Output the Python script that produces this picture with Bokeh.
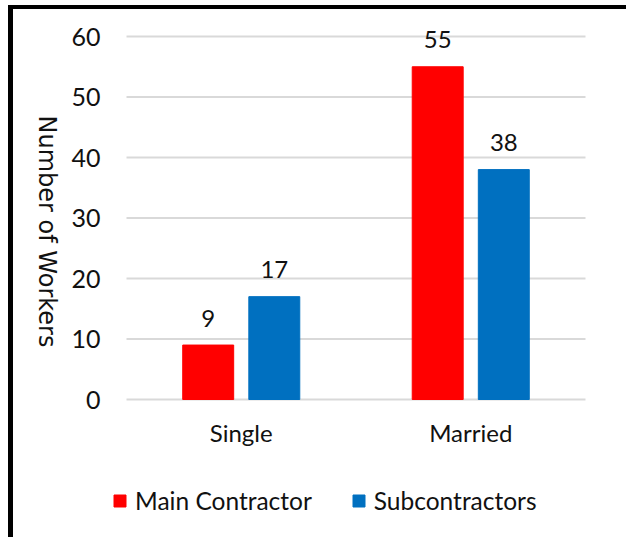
import math
from bokeh.plotting import figure
from bokeh.models import (ColumnDataSource, Range1d, Legend, LegendItem, FixedTicker, Label)
from bokeh.transform import dodge
from bokeh.core.properties import value
from bokeh.embed import file_html
from bokeh.resources import INLINE

# ---- data ----
categories = ["Single", "Married"]
series_names = ["Main Contractor", "Subcontractors"]
main_contractor = [9, 55]
subcontractors = [17, 38]
y_ticks = [0, 10, 20, 30, 40, 50, 60]
y_title = "Number of Workers"

RED = "#ff0000"
BLUE = "#0070c0"
FONT = "Lato"
TXT = "#111111"

W, H = 626, 537
# plot area (pixels in the canvas)
AREA_L, AREA_R, AREA_B = 126, 585, 399
PX_PER_CAT = (AREA_R - AREA_L) / len(categories)
PX_PER_UNIT = 6.05

xc = [i + 0.5 for i in range(len(categories))]
src = ColumnDataSource(dict(
    xc=xc,
    main=main_contractor,
    sub=subcontractors,
    main_txt=[str(v) for v in main_contractor],
    sub_txt=[str(v) for v in subcontractors],
))

x_range = Range1d(-AREA_L / PX_PER_CAT, len(categories) + (W - AREA_R) / PX_PER_CAT)
y_range = Range1d(-(H - AREA_B) / PX_PER_UNIT, AREA_B / PX_PER_UNIT)

p = figure(width=W, height=H, output_backend="svg", toolbar_location=None,
           x_range=x_range, y_range=y_range,
           min_border_left=0, min_border_right=0, min_border_top=0, min_border_bottom=0,
           styles={"box-shadow": "inset 8px 5px 0 0 white, inset 13px 9px 0 0 black"})
p.outline_line_color = None
p.background_fill_color = None
p.border_fill_color = None
p.xgrid.visible = False
p.ygrid.visible = False

# horizontal gridlines at the y ticks, across the plot area only
p.segment(x0=0, x1=len(categories), y0=y_ticks, y1=y_ticks,
          line_color="#d9d9d9", line_width=2)

off = 0.144
bw = 0.222
r1 = p.vbar(x=dodge("xc", -off), top="main", width=bw, source=src,
            fill_color=RED, line_color=RED)
r2 = p.vbar(x=dodge("xc", off), top="sub", width=bw, source=src,
            fill_color=BLUE, line_color=BLUE)

for col, txt, dx in (("main", "main_txt", -off), ("sub", "sub_txt", off)):
    p.text(x=dodge("xc", dx), y=col, text=txt, source=src,
           text_align="center", text_baseline="middle", y_offset=-27,
           text_font=value(FONT), text_font_size="24px", text_color=TXT)

# y axis at the left edge of the plot area
yax = p.yaxis[0]
yax.fixed_location = 0
yax.ticker = FixedTicker(ticks=y_ticks)
yax.axis_line_color = None
yax.major_tick_line_color = None
yax.minor_tick_line_color = None
yax.major_label_standoff = 20
yax.major_label_text_font = FONT
yax.major_label_text_font_size = "25px"
yax.major_label_text_color = TXT

# y title, reading top to bottom
p.add_layout(Label(x=46, y=H - 231, x_units="screen", y_units="screen", text=y_title,
                   angle=-math.pi / 2, text_align="center", text_baseline="middle",
                   text_font="DejaVu Sans", text_font_size="24px", text_color=TXT))

# x axis at y = 0
xax = p.xaxis[0]
xax.fixed_location = 0
xax.ticker = FixedTicker(ticks=xc)
xax.major_label_overrides = {x: c for x, c in zip(xc, categories)}
xax.axis_line_color = None
xax.major_tick_line_color = None
xax.minor_tick_line_color = None
xax.major_label_standoff = 12
xax.major_label_text_font = FONT
xax.major_label_text_font_size = "24px"
xax.major_label_text_color = TXT

legend = Legend(items=[LegendItem(label=series_names[0], renderers=[r1]),
                       LegendItem(label=series_names[1], renderers=[r2])],
                orientation="horizontal", location=(112, 22),
                glyph_width=15, glyph_height=15, label_standoff=8, spacing=39,
                padding=0, margin=0, border_line_color=None, background_fill_alpha=0,
                label_text_font=FONT, label_text_font_size="24.5px", label_text_color=TXT)
p.add_layout(legend)

open("out.html", "w").write(file_html(p, INLINE))
